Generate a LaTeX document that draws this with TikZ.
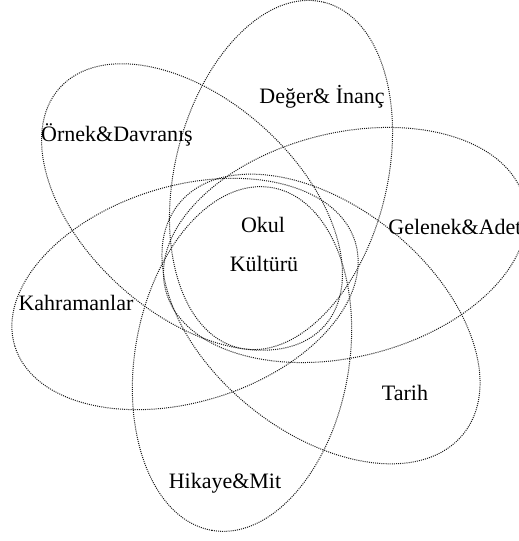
\documentclass[tikz,border=0pt]{standalone}
\usepackage{fontspec}
\setmainfont{Liberation Serif}
\usetikzlibrary{positioning}

\begin{document}
\begin{tikzpicture}[
  x=0.5pt, y=0.5pt,
  petal/.style={draw=black!90, line width=0.5pt, dash pattern=on 0.5pt off 0.55pt},
  lbl/.style={inner sep=0pt, font=\fontsize{11}{13}\selectfont},
]
  \useasboundingbox (0,0) rectangle (519,541);
  \clip (0,0) rectangle (519,541);

  % petals: centre x / centre y / angle / x radius / y radius
  \foreach \cx/\cy/\ang/\ra/\rb in {281/366/76/178/106, 192/334/138/178/107,
      185/247/197/178/108, 242/182/260/174/107, 321/222/-39/183/113, 345/296/14/185/112}
    \draw[petal, rotate around={\ang:(\cx,\cy)}] (\cx,\cy) ellipse [x radius=\ra, y radius=\rb];

  \node[lbl] (okul) at (263,316) {Okul};
  \node[lbl] (kultur) at (264,277) {Kültürü};

  \node[lbl] (deger) at (322,444) {Değer\& İnanç};
  \node[lbl] (ornek) at (117,406) {Örnek\&Davranış};
  \node[lbl] (kahraman) at (76,238) {Kahramanlar};
  \node[lbl] (hikaye) at (225,58) {Hikaye\&Mit};
  \node[lbl] (tarih) at (405,148) {Tarih};
  \node[lbl, anchor=west] (gelenek) at (388,314) {Gelenek\&Adet};
\end{tikzpicture}
\end{document}
